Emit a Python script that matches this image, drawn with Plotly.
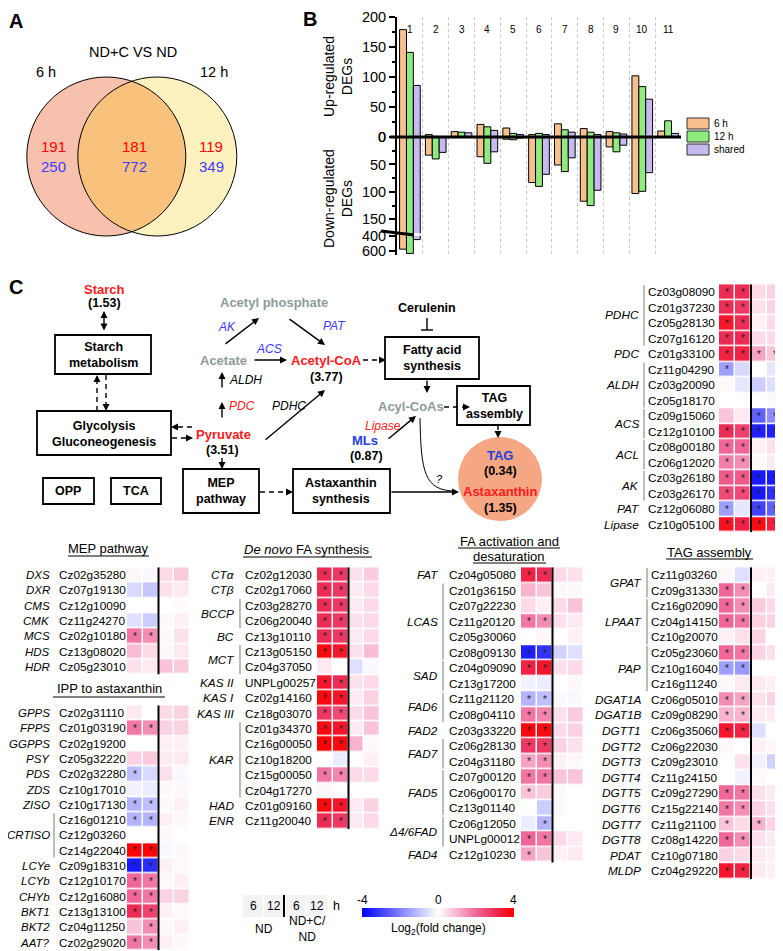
import numpy as np
import plotly.graph_objects as go

W, H = 783, 951
OX, OY = 8, 8          # page offset of the figure inside the browser page
FONT = "Liberation Sans, Arial, sans-serif"

# ---------------- Panel A data ----------------
venn_title = "ND+C VS ND"
venn_sets = ["6 h", "12 h"]
venn_up = [191, 181, 119]
venn_down = [250, 772, 349]

# ---------------- Panel B data ----------------
b_cats = [str(i) for i in range(1, 12)]
up_6h = [179, 4, 9, 21, 15, 4, 22, 14, 9, 102, 10]
up_12h = [141, 1, 8, 17, 6, 6, 12, 8, 7, 84, 27]
up_shared = [86, 0, 7, 11, 4, 4, 8, 4, 5, 63, 6]
down_6h = [573, 33, 0, 36, 4, 83, 51, 117, 18, 103, 0]
down_12h = [631, 40, 0, 48, 5, 90, 63, 125, 27, 99, 0]
down_shared = [444, 28, 0, 27, 2, 68, 38, 97, 15, 65, 0]
b_series = ["6 h", "12 h", "shared"]
b_colors = ["#F9C08F", "#8FEA80", "#C7BAF0"]
up_ticks = [0, 50, 100, 150, 200]
down_ticks = [0, 50, 100, 150, 400, 600]

# ---------------- Panel C heatmap data (log2 fold change) ----------------
tr_genes = ["Cz03g08090", "Cz01g37230", "Cz05g28130", "Cz07g16120", "Cz01g33100",
            "Cz11g04290", "Cz03g20090", "Cz05g18170", "Cz09g15060", "Cz12g10100",
            "Cz08g00180", "Cz06g12020", "Cz03g26180", "Cz03g26170", "Cz12g06080",
            "Cz10g05100"]
tr_groups = [("PDHC", 4), ("PDC", 1), ("ALDH", 3), ("ACS", 2), ("ACL", 2),
             ("AK", 2), ("PAT", 1), ("Lipase", 1)]
tr_z = [[3.0, 3.0, 0.5, 0.6], [3.0, 2.8, 0.4, 0.6], [3.5, 3.0, 0.2, 0.5],
        [3.0, 3.0, 0.5, 0.5], [3.2, 3.2, 1.2, 0.8], [-1.5, -0.6, 0.0, -0.4],
        [0.1, -0.4, -0.8, -0.5], [0.0, 0.0, 0.0, 0.1], [0.8, 0.3, -2.5, -1.8],
        [3.0, 2.6, -3.5, -3.5], [2.0, 2.0, 0.2, 0.4], [1.7, 1.5, 0.1, 0.3],
        [2.2, 2.2, -3.6, -3.6], [2.5, 2.5, -3.6, -3.3], [-1.5, -0.4, -3.0, -2.5],
        [3.6, 3.2, 3.8, 3.3]]
tr_sig = ["**..", "**..", "**..", "**..", "****", "*...", "....", "....",
          "..**", "****", "**..", "**..", "****", "****", "*.**", "****"]

mep_genes = ["Cz02g35280", "Cz07g19130", "Cz12g10090", "Cz11g24270", "Cz02g10180",
             "Cz13g08020", "Cz05g23010"]
mep_groups = [("DXS", 1), ("DXR", 1), ("CMS", 1), ("CMK", 1), ("MCS", 1), ("HDS", 1), ("HDR", 1)]
mep_z = [[0.1, -0.1, 0.5, 0.7], [-0.6, -0.9, 0.4, 0.3], [0.0, 0.0, 0.0, 0.05],
         [-0.5, -0.8, 0.1, 0.2], [1.8, 1.5, 0.1, 0.4], [0.9, 0.5, 0.1, 0.3],
         [0.4, 0.3, 0.8, 0.7]]
mep_sig = ["....", "....", "....", "....", "**..", "....", "...."]

ipp_genes = ["Cz02g31110", "Cz01g03190", "Cz02g19200", "Cz05g32220", "Cz02g32280",
             "Cz10g17010", "Cz10g17130", "Cz16g01210", "Cz12g03260", "Cz14g22040",
             "Cz09g18310", "Cz12g10170", "Cz12g16080", "Cz13g13100", "Cz04g11250",
             "Cz02g29020"]
ipp_groups = [("GPPS", 1), ("FPPS", 1), ("GGPPS", 1), ("PSY", 1), ("PDS", 1), ("ZDS", 1),
              ("ZISO", 1), ("CRTISO", 3), ("LCYe", 1), ("LCYb", 1), ("CHYb", 1),
              ("BKT1", 1), ("BKT2", 1), ("AAT?", 1)]
ipp_z = [[0.3, 0.0, 0.5, 0.6], [1.8, 1.5, 0.6, 0.6], [0.0, 0.0, 0.2, 0.2],
         [0.6, 0.7, 0.3, 0.3], [-1.0, -0.6, 0.4, -0.1], [-0.2, -0.3, 0.1, 0.1],
         [-1.2, -1.0, 0.1, 0.2], [-1.2, -1.2, 0.2, 0.1], [0.0, 0.0, 0.1, 0.0],
         [3.9, 3.9, -0.1, 0.1], [-3.6, -3.3, 0.2, 0.1], [2.0, 1.8, 0.1, 0.2],
         [2.0, 1.8, 0.6, 0.6], [3.0, 2.6, 0.2, 0.1], [0.8, 1.5, 0.1, 0.2],
         [1.8, 1.5, 0.2, 0.1]]
ipp_sig = ["....", "**..", "....", "....", "*...", "....", "**..", "**..", "....",
           "**..", "**..", "**..", "**..", "**..", ".*..", "**.."]

fas_genes = ["Cz02g12030", "Cz02g17060", "Cz03g28270", "Cz06g20040", "Cz13g10110",
             "Cz13g05150", "Cz04g37050", "UNPLg00257", "Cz02g14160", "Cz18g03070",
             "Cz01g34370", "Cz16g00050", "Cz10g18200", "Cz15g00050", "Cz04g17270",
             "Cz01g09160", "Cz11g20040"]
fas_groups = [("CTα", 1), ("CTβ", 1), ("BCCP", 2), ("BC", 1), ("MCT", 2), ("KAS II", 1),
              ("KAS I", 1), ("KAS III", 1), ("KAR", 5), ("HAD", 1), ("ENR", 1)]
fas_z = [[3.0, 2.8, 0.4, 0.7], [3.0, 2.8, 0.3, 0.5], [3.0, 2.8, 0.3, 0.5],
         [3.0, 2.8, 0.4, 0.5], [3.0, 2.8, 0.3, 0.5], [3.8, 3.5, 0.4, 0.9],
         [0.3, 0.0, -0.5, -0.1], [3.5, 3.0, 0.4, 0.5], [3.8, 3.5, 0.3, 0.6],
         [2.8, 2.5, 0.5, 0.8], [3.8, 3.5, 0.3, 0.8], [4.0, 3.8, 1.0, 0.1],
         [0.0, -0.3, 0.0, 0.2], [1.8, 1.6, 0.5, 0.5], [0.1, 0.0, 0.0, 0.0],
         [3.8, 3.5, 0.3, 0.6], [3.0, 2.8, 0.3, 0.5]]
fas_sig = ["**..", "**..", "**..", "**..", "**..", "**..", "....", "**..", "**..",
           "**..", "**..", "**..", "....", "**..", "....", "**..", "**.."]

faa_genes = ["Cz04g05080", "Cz01g36150", "Cz07g22230", "Cz11g20120", "Cz05g30060",
             "Cz08g09130", "Cz04g09090", "Cz13g17200", "Cz11g21120", "Cz08g04110",
             "Cz03g33220", "Cz06g28130", "Cz04g31180", "Cz07g00120", "Cz06g00170",
             "Cz13g01140", "Cz06g12050", "UNPLg00012", "Cz12g10230"]
faa_groups = [("FAT", 1), ("LCAS", 5), ("SAD", 2), ("FAD6", 2), ("FAD2", 1), ("FAD7", 2),
              ("FAD5", 3), ("Δ4/6FAD", 2), ("FAD4", 1)]
faa_z = [[3.2, 3.0, 0.5, 0.4], [1.0, 0.8, 0.1, 0.1], [0.5, 0.2, 0.5, 0.8],
         [1.8, 1.5, 0.4, 0.3], [0.0, 0.1, 0.0, 0.2], [-3.5, -3.2, -0.7, -0.5],
         [3.2, 3.5, 0.4, 0.5], [-0.2, -0.3, 0.0, 0.1], [-1.2, -1.0, -0.1, -0.1],
         [1.8, 1.6, 0.4, 0.7], [3.8, 3.8, 0.5, 0.6], [2.8, 2.8, 0.6, 0.4],
         [1.2, 1.5, 0.2, 0.1], [1.8, 1.8, 0.8, 0.8], [0.8, 0.7, 0.1, 0.0],
         [0.0, -0.8, -0.1, 0.0], [-0.3, -1.2, 0.0, 0.0], [2.0, 1.8, 0.5, 0.3],
         [1.2, 0.8, 0.2, 0.3]]
faa_sig = ["**..", "....", "....", "**..", "....", "**..", "**..", "....", "**..",
           "**..", "**..", "**..", "**..", "**..", "*...", "....", ".*..", "**..", "*..."]

tag_genes = ["Cz11g03260", "Cz09g31330", "Cz16g02090", "Cz04g14150", "Cz10g20070",
             "Cz05g23060", "Cz10g16040", "Cz16g11240", "Cz06g05010", "Cz09g08290",
             "Cz06g35060", "Cz06g22030", "Cz09g23010", "Cz11g24150", "Cz09g27290",
             "Cz15g22140", "Cz11g21100", "Cz08g14220", "Cz10g07180", "Cz04g29220"]
tag_groups = [("GPAT", 2), ("LPAAT", 3), ("PAP", 3), ("DGAT1A", 1), ("DGAT1B", 1),
              ("DGTT1", 1), ("DGTT2", 1), ("DGTT3", 1), ("DGTT4", 1), ("DGTT5", 1),
              ("DGTT6", 1), ("DGTT7", 1), ("DGTT8", 1), ("PDAT", 1), ("MLDP", 1)]
tag_z = [[0.1, -0.5, 0.2, 0.2], [2.0, 1.5, 0.0, 0.3], [2.0, 1.5, 0.7, 0.5],
         [2.0, 1.8, 0.6, 0.6], [0.2, 0.4, 0.6, 0.0], [2.0, 1.8, 0.6, 0.4],
         [-1.5, -1.6, 0.0, 0.0], [0.1, 0.3, 0.3, 0.2], [1.5, 1.2, 0.4, 0.6],
         [1.0, 1.0, 0.3, 0.3], [3.5, 3.2, -0.5, 0.0], [0.1, 0.0, 0.2, 0.1],
         [0.0, 0.4, -0.2, -0.7], [0.0, -0.2, 0.1, 0.0], [2.0, 1.8, 0.4, 0.3],
         [1.8, 1.5, 0.6, 0.4], [0.8, 0.5, 1.0, 0.6], [2.0, 1.5, 0.4, 0.3],
         [0.6, 0.5, 0.3, 0.2], [3.5, 3.2, 0.3, 0.2]]
tag_sig = ["....", "**..", "**..", "**..", "....", "**..", "**..", "....", "**..",
           "**..", "**..", "....", "....", "....", "**..", "**..", "*.*.", "**..",
           "....", "**.."]

hm_cols = ["6", "12", "6", "12"]
cmin, cmax = -4, 4


# ---------------- helpers ----------------
def fx(x):   # page pixel -> paper x
    return (x - OX) / W


def fy(y):   # page pixel -> paper y
    return 1 - (y - OY) / H


shapes, ann = [], []
PX = dict(xref="x9", yref="y9")


def txt(x, y, s, size=12.5, color="black", bold=False, italic=False,
        xanchor="center", yanchor="middle", angle=0):
    if italic:
        s = f"<i>{s}</i>"
    if bold:
        s = f"<b>{s}</b>"
    ann.append(dict(x=x, y=y, text=s, showarrow=False, textangle=angle,
                    font=dict(size=size, color=color, family=FONT),
                    xanchor=xanchor, yanchor=yanchor, **PX))


def arrow(x0, y0, x1, y1, color="black", width=1.4, both=False):
    ann.append(dict(x=x1, y=y1, ax=x0, ay=y0, axref="x9", ayref="y9", text="",
                    showarrow=True, arrowhead=2, arrowsize=1, arrowwidth=width,
                    arrowcolor=color, arrowside="end+start" if both else "end",
                    standoff=0, startstandoff=0, **PX))


def line(x0, y0, x1, y1, color="black", width=1.4, dash=None):
    ln = dict(color=color, width=width)
    if dash:
        ln["dash"] = dash
    shapes.append(dict(type="line", x0=x0, y0=y0, x1=x1, y1=y1, line=ln, **PX))


def darrow(x0, y0, x1, y1):
    L = np.hypot(x1 - x0, y1 - y0)
    ux, uy = (x1 - x0) / L, (y1 - y0) / L
    line(x0, y0, x1 - ux * 3, y1 - uy * 3, dash="5px,4px")
    arrow(x1 - ux * 5, y1 - uy * 5, x1, y1)


def rect(x0, y0, x1, y1, lw=1.8, fill="rgba(0,0,0,0)", lc="black"):
    shapes.append(dict(type="rect", x0=x0, y0=y0, x1=x1, y1=y1,
                       line=dict(color=lc, width=lw), fillcolor=fill, **PX))


fig = go.Figure()
layout = {}

# ---------------- Panel A: Venn ----------------
cL, cR, rV, cy = 106.3, 157.3, 79.5, 156.5
a = (cR - cL) / 2
hh = np.sqrt(rV ** 2 - a ** 2)
t = np.arcsin(hh / rV)
th1 = np.linspace(-t, t, 60)
th2 = np.linspace(np.pi - t, np.pi + t, 60)
pts = [(cL + rV * np.cos(q), cy + rV * np.sin(q)) for q in th1] + \
      [(cR + rV * np.cos(q), cy + rV * np.sin(q)) for q in th2]
lens = "M " + " L ".join(f"{px:.2f},{py:.2f}" for px, py in pts) + " Z"
shapes.append(dict(type="circle", x0=cL - rV, x1=cL + rV, y0=cy - rV, y1=cy + rV,
                   fillcolor="#F8C1AE", line=dict(width=0), **PX))
shapes.append(dict(type="circle", x0=cR - rV, x1=cR + rV, y0=cy - rV, y1=cy + rV,
                   fillcolor="#FEF1C0", line=dict(width=0), **PX))
shapes.append(dict(type="path", path=lens, fillcolor="#F8C27C", line=dict(width=0), **PX))
for c in (cL, cR):
    shapes.append(dict(type="circle", x0=c - rV, x1=c + rV, y0=cy - rV, y1=cy + rV,
                       fillcolor="rgba(0,0,0,0)", line=dict(color="black", width=1), **PX))
txt(16, 21, "A", size=20, bold=True)
txt(133, 52, venn_title, size=14.5)
txt(46, 72, venn_sets[0], size=14.5)
txt(214, 72, venn_sets[1], size=14.5)
for xv, u, d in zip([53, 134, 211], venn_up, venn_down):
    txt(xv, 146, str(u), size=15, color="#FF0000")
    txt(xv, 166, str(d), size=15, color="#3D3DFF")


# ---------------- Panel B: bars ----------------
def brk(v):
    # broken lower axis: linear up to the break, compressed above 400
    return v if v <= 160 else 181 + (v - 400) * 0.135


for name, col, up, dn in zip(b_series, b_colors, [up_6h, up_12h, up_shared],
                             [down_6h, down_12h, down_shared]):
    fig.add_trace(go.Bar(x=b_cats, y=up, name=name, marker=dict(color=col, line=dict(color="black", width=1)),
                         xaxis="x", yaxis="y", showlegend=False, hoverinfo="skip"))
    fig.add_trace(go.Bar(x=b_cats, y=[brk(v) for v in dn], name=name,
                         marker=dict(color=col, line=dict(color="black", width=1)),
                         xaxis="x2", yaxis="y2", showlegend=False, hoverinfo="skip"))

bx0, bx1 = 397, 681
y_top, y_zero, y_bot = 17, 137, 255
xcommon = dict(domain=[fx(bx0), fx(bx1)], type="category", tickson="boundaries", ticks="",
               showgrid=True, gridcolor="#c4c4c4", griddash="dot", gridwidth=1,
               showline=False, zeroline=False, showticklabels=False)
layout["xaxis"] = dict(xcommon, anchor="y", side="top")
layout["xaxis2"] = dict(xcommon, anchor="y2")
ycommon = dict(showline=True, linecolor="black", linewidth=2, ticks="outside", ticklen=6,
               tickwidth=1.5, tickcolor="black", showgrid=False, zeroline=False,
               tickfont=dict(size=14.5, color="black", family=FONT))
layout["yaxis"] = dict(ycommon, domain=[fy(y_zero), fy(y_top)], range=[0, 200], anchor="x",
                       tickvals=up_ticks,
                       minor=dict(tickvals=[25, 75, 125, 175], ticks="outside", ticklen=3, tickcolor="black"))
layout["yaxis2"] = dict(ycommon, domain=[fy(y_bot), fy(y_zero)], range=[215, 0], anchor="x2",
                        tickvals=[brk(v) for v in down_ticks], ticktext=[str(v) for v in down_ticks],
                        minor=dict(tickvals=[25, 75, 125], ticks="outside", ticklen=3, tickcolor="black"))
layout["bargap"] = 0.2
layout["barmode"] = "group"
for i, c in enumerate(b_cats):
    ann.append(dict(x=i, xref="x", y=fy(22), yref="paper", text=c, showarrow=False,
                    font=dict(size=10, color="black", family=FONT)))

line(390, y_zero, 681, y_zero, width=3)
line(381, 231, 414, 235, width=3.2)
line(414, 234.5, 423, 234.5, color="white", width=2.5)
txt(310, 19, "B", size=20, bold=True)
txt(338, 77, "Up-regulated<br>DEGs", size=14, angle=-90)
txt(338, 199, "Down-regulated<br>DEGs", size=14, angle=-90)
for i, (name, col) in enumerate(zip(b_series, b_colors)):
    yy = 118 + i * 13
    rect(687, yy, 709, yy + 11, lw=1, fill=col, lc="#333")
    txt(712, yy + 5.5, name, size=10, xanchor="left")

# ---------------- Panel C: diagram ----------------
GRAY = "#8D9B9B"
RED = "#FF1A1A"
BLUE = "#3A3AFF"
txt(16, 287, "C", size=20, bold=True)
txt(104, 289, "Starch", size=13, color=RED, bold=True)
txt(104, 303, "(1.53)", size=12.5, bold=True)
arrow(104, 332, 104, 311, both=True)
rect(55, 335, 151, 374)
txt(103, 355, "Starch<br>metabolism", bold=True)
darrow(97, 411, 97, 375)
darrow(106, 375, 106, 411)
rect(37, 411, 171, 455)
txt(104, 434, "Glycolysis<br>Gluconeogenesis", bold=True)
darrow(192, 427, 171, 427)
darrow(172, 438, 193, 438)
txt(223, 434, "Pyruvate", size=13, color=RED, bold=True)
txt(222, 450, "(3.51)", bold=True)
arrow(222, 419, 222, 402)
txt(227, 406, "PDC", size=12, color=RED, italic=True, xanchor="left")
arrow(222, 389, 222, 372)
txt(227, 380, "ALDH", size=12, italic=True, xanchor="left")
txt(223, 360, "Acetate", size=13, color=GRAY, bold=True)
arrow(253, 360, 287, 360)
txt(269, 349, "ACS", size=12, color=BLUE, italic=True)
arrow(224, 345, 259, 318)
txt(227, 327, "AK", size=12, color=BLUE, italic=True)
txt(274, 302, "Acetyl phosphate", size=13, color=GRAY, bold=True)
arrow(288, 318, 325, 345)
txt(334, 326, "PAT", size=12, color=BLUE, italic=True)
txt(326, 360, "Acetyl-CoA", size=13, color=RED, bold=True)
txt(326, 377, "(3.77)", bold=True)
arrow(264, 441, 325, 390)
txt(289, 406, "PDHC", size=12, italic=True)
darrow(363, 360, 386, 360)
txt(427, 308, "Cerulenin", bold=True)
line(427, 318, 427, 330)
line(421, 330, 433, 330)
rect(385, 337, 479, 379)
txt(432, 358, "Fatty acid<br>synthesis", bold=True)
arrow(427, 379, 427, 393)
txt(411, 406, "Acyl-CoAs", size=13, color=GRAY, bold=True)
darrow(444, 407, 470, 407)
rect(457, 386, 530, 425)
txt(494, 406, "TAG<br>assembly", bold=True)
darrow(498, 425, 498, 438)
shapes.append(dict(type="circle", x0=458, x1=542, y0=437, y1=521, fillcolor="#F5A683",
                   line=dict(width=0), **PX))
txt(500, 455, "TAG", size=13, color="#2340E0", bold=True)
txt(500, 471, "(0.34)", bold=True)
txt(500, 491, "Astaxanthin", size=13, color=RED, bold=True)
txt(500, 508, "(1.35)", bold=True)
txt(383, 426, "Lipase", size=12, color=RED, italic=True)
arrow(387, 440, 416, 416)
txt(365, 440, "MLs", size=13, color="#2340E0", bold=True)
txt(366, 456, "(0.87)", bold=True)
shapes.append(dict(type="path", path="M 420,418 C 421,472 424,491 456,491",
                   line=dict(color="black", width=1), **PX))
txt(439, 479, "?", size=11, italic=True)
rect(183, 469, 259, 513)
txt(221, 491, "MEP<br>pathway", bold=True)
darrow(222, 458, 222, 469)
darrow(260, 492, 293, 492)
rect(293, 469, 390, 513)
txt(341, 491, "Astaxanthin<br>synthesis", bold=True)
arrow(390, 492, 459, 492)
rect(43, 478, 94, 504)
txt(68, 491, "OPP", bold=True)
rect(111, 478, 161, 504)
txt(136, 491, "TCA", bold=True)

# ---------------- Panel C: heatmaps ----------------
blocks = [
    dict(g=tr_genes, gr=tr_groups, z=tr_z, s=tr_sig, cx=(719, 783), top=292, rh=15.5, nx=646, bx=644, lx=641, fs=11.8),
    dict(g=mep_genes, gr=mep_groups, z=mep_z, s=mep_sig, cx=(127, 190), top=575, rh=15.3, nx=57, bx=54, lx=52, fs=11.5),
    dict(g=ipp_genes, gr=ipp_groups, z=ipp_z, s=ipp_sig, cx=(127, 190), top=713, rh=15.3, nx=57, bx=54, lx=52, fs=11.5),
    dict(g=fas_genes, gr=fas_groups, z=fas_z, s=fas_sig, cx=(317, 380), top=575, rh=15.4, nx=243, bx=240, lx=236, fs=11.8),
    dict(g=faa_genes, gr=faa_groups, z=faa_z, s=faa_sig, cx=(521, 584), top=575, rh=15.55, nx=447, bx=443, lx=440, fs=11.8),
    dict(g=tag_genes, gr=tag_groups, z=tag_z, s=tag_sig, cx=(719, 783), top=575, rh=15.6, nx=649, bx=647, lx=643, fs=11.8),
]
for i, b in enumerate(blocks):
    k = 3 + i
    n = len(b["g"])
    ytop = b["top"] - b["rh"] / 2
    ybot = ytop + n * b["rh"]
    text = [["*" if c == "*" else "" for c in row] for row in b["s"]]
    fig.add_trace(go.Heatmap(z=b["z"], x=list(range(4)), y=list(range(n)), text=text,
                             texttemplate="%{text}", textfont=dict(size=10, color="#222", family=FONT),
                             coloraxis="coloraxis", xgap=1.5, ygap=1.5,
                             xaxis=f"x{k}", yaxis=f"y{k}", hoverinfo="skip"))
    layout[f"xaxis{k}"] = dict(domain=[fx(b["cx"][0]), fx(b["cx"][1])], range=[-0.5, 3.5],
                               visible=False, anchor=f"y{k}", fixedrange=True)
    layout[f"yaxis{k}"] = dict(domain=[fy(ybot), fy(ytop)], range=[n - 0.5, -0.5],
                               visible=False, anchor=f"x{k}", fixedrange=True)
    shapes.append(dict(type="line", xref=f"x{k}", yref=f"y{k}", x0=1.5, x1=1.5, y0=-0.5, y1=n - 0.5,
                       line=dict(color="black", width=2)))
    for j, gname in enumerate(b["g"]):
        txt(b["nx"], b["top"] + j * b["rh"], gname, size=11.8, xanchor="left")
    s0 = 0
    for lab, cnt in b["gr"]:
        yc = b["top"] + (s0 + (cnt - 1) / 2) * b["rh"]
        txt(b["lx"], yc, lab, size=b["fs"], italic=True, xanchor="right")
        if cnt > 1:
            line(b["bx"], b["top"] + (s0 - 0.45) * b["rh"], b["bx"], b["top"] + (s0 + cnt - 0.55) * b["rh"],
                 color="#8C9C9C", width=1.3)
        s0 += cnt


# block titles with underlines
def title(x, y, s, x0, x1, uy):
    txt(x, y, s, size=13)
    line(x0, uy, x1, uy, width=1)


title(108, 548, "MEP pathway", 68, 149, 556)
title(109, 688, "IPP to astaxanthin", 53, 165, 697)
title(307, 549, "<i>De novo</i> FA synthesis", 243, 372, 557)
title(509, 541, "FA activation and", 458, 560, 548)
title(509, 556, "desaturation", 473, 546, 563)
title(709, 552, "TAG assembly", 666, 753, 559)

# sample legend
for x0, lab in zip([243, 264, 286, 307], hm_cols):
    rect(x0, 895, x0 + 20, 917, lw=0, fill="#F3F3F3")
    txt(x0 + 10, 906, lab, size=12)
line(284, 895, 284, 917, width=2)
txt(336, 906, "h", size=12.5)
txt(264, 929, "ND", size=12)
txt(287, 929, "ND+C/<br>ND", size=12, xanchor="left")
txt(362, 900, str(cmin), size=12)
txt(438, 900, "0", size=12)
txt(513, 900, str(cmax), size=12)
txt(438, 929, "Log<sub>2</sub>(fold change)", size=12)

# pixel overlay axis (page pixel coordinates)
fig.add_trace(go.Scatter(x=[None], y=[None], xaxis="x9", yaxis="y9", showlegend=False, hoverinfo="skip"))
layout["xaxis9"] = dict(domain=[0, 1], range=[OX, W + OX], visible=False, anchor="y9", fixedrange=True)
layout["yaxis9"] = dict(domain=[0, 1], range=[H + OY, OY], visible=False, anchor="x9", fixedrange=True)

layout["coloraxis"] = dict(
    cmin=cmin, cmax=cmax,
    colorscale=[[0, "#0000FF"], [0.5, "#FFFFFF"], [0.625, "#F8B4CF"],
                [0.75, "#F06699"], [0.875, "#EC2C55"], [1, "#FF0000"]],
    colorbar=dict(orientation="h", x=fx(438), xanchor="center", y=fy(908), yanchor="top",
                  len=152 / W, lenmode="fraction", thickness=9, thicknessmode="pixels",
                  outlinewidth=0, showticklabels=False, ticks="", xpad=0, ypad=0))

fig.update_layout(**layout)
fig.update_layout(width=W, height=H, autosize=False,
                  margin=dict(l=0, r=0, t=0, b=0, pad=0, autoexpand=False),
                  paper_bgcolor="white", plot_bgcolor="rgba(0,0,0,0)",
                  font=dict(family=FONT, color="black"), showlegend=False,
                  shapes=shapes, annotations=ann)
fig.write_html("out.html")
